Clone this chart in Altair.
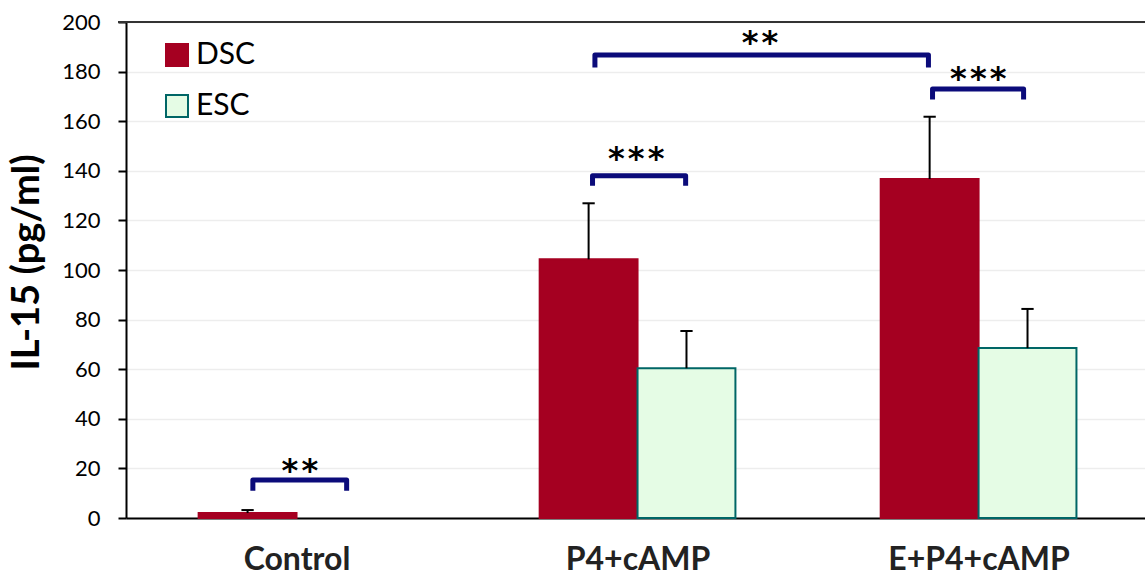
import altair as alt
import pandas as pd

# ---- data ----
groups = ["Control", "P4+cAMP", "E+P4+cAMP"]
cell_types = ["DSC", "ESC"]
dsc_mean = [2.0, 104.3, 136.7]
dsc_sem = [1.2, 22.6, 25.1]
esc_mean = [0.0, 60.4, 68.5]
esc_sem = [0.0, 15.0, 15.8]

# significance brackets (x in group units, y in pg/ml)
br_x1 = [0.372, 1.368, 1.375, 2.365]
br_x2 = [0.647, 1.641, 2.353, 2.632]
br_top = [15.3, 138.0, 186.7, 173.0]
br_bottom = [11.0, 134.0, 181.7, 168.8]
star_text = ["*\u200a*", "*\u200a*\u200a*", "*\u200a*", "*\u200a*\u200a*"]
star_x = [0.51, 1.496, 1.859, 2.499]
star_y = [21.4, 147.3, 194.0, 179.3]

# ---- build tables ----
BAR_W = 0.287
rows = []
for i, g in enumerate(groups):
    c = i + 0.5
    rows.append(dict(group=g, cell="DSC", mean=dsc_mean[i], top=dsc_mean[i] + dsc_sem[i],
                     x=c - BAR_W, x2=c, xc=c - BAR_W / 2))
    rows.append(dict(group=g, cell="ESC", mean=esc_mean[i], top=esc_mean[i] + esc_sem[i],
                     x=c, x2=c + BAR_W, xc=c + BAR_W / 2))
bars = pd.DataFrame(rows)
bars["cap1"] = bars["xc"] - 0.018
bars["cap2"] = bars["xc"] + 0.018

brows = []
for k in range(len(br_x1)):
    pts = [(br_x1[k], br_bottom[k]), (br_x1[k], br_top[k]), (br_x2[k], br_top[k]), (br_x2[k], br_bottom[k])]
    for j, (px, py) in enumerate(pts):
        brows.append(dict(b=k, o=j, x=px, y=py))
brackets = pd.DataFrame(brows)
stars = pd.DataFrame(dict(x=star_x, y=star_y, t=star_text))
border = pd.DataFrame(dict(y=[200]))

FONT = "Lato"
xscale = alt.Scale(domain=[0, 2.988], nice=False, zero=False)
yscale = alt.Scale(domain=[0, 200], nice=False)

label_expr = "[" + ",".join("'" + g + "'" for g in groups) + "][round(datum.value - 0.5)]"

xaxis = alt.Axis(values=[0.5, 1.5, 2.5], labelExpr=label_expr, title=None, grid=False,
                 ticks=False, domainColor="black", domainWidth=2, labelFont=FONT, labelLimit=0,
                 labelFontSize=32, labelFontWeight="bold", labelColor="#222222", labelPadding=26)
yaxis = alt.Axis(values=list(range(0, 201, 20)), title="IL-15 (pg/ml)", titleFont=FONT,
                 titleFontSize=38, titleFontWeight="bold", titleColor="black", titlePadding=15,
                 titleY=240,
                 labelFont=FONT, labelFontSize=22, labelColor="black", labelPadding=18,
                 tickColor="black", tickWidth=2, tickSize=8, domainColor="black", domainWidth=2,
                 gridColor="#EDEDED", gridWidth=1.5)

leg = alt.Legend(title=None, orient="none", legendX=36, legendY=18, symbolType="square",
                 symbolSize=484, symbolStrokeWidth=2, labelFont=FONT, labelFontSize=30,
                 labelColor="black", rowPadding=21, labelOffset=4)

bar_layer = alt.Chart(bars).transform_filter("datum.mean > 0").mark_bar(strokeWidth=2).encode(
    x=alt.X("x:Q", scale=xscale, axis=xaxis),
    x2="x2:Q",
    y=alt.Y("mean:Q", scale=yscale, axis=yaxis),
    y2=alt.datum(0),
    fill=alt.Fill("cell:N", scale=alt.Scale(domain=cell_types, range=["#A50021", "#E5FCE5"]), legend=leg),
    stroke=alt.Stroke("cell:N", scale=alt.Scale(domain=cell_types, range=["#A50021", "#006666"]), legend=leg),
)

err_stem = alt.Chart(bars).transform_filter("datum.top > datum.mean").mark_rule(color="black", strokeWidth=2).encode(
    x="xc:Q", y="mean:Q", y2="top:Q")
err_cap = alt.Chart(bars).transform_filter("datum.top > datum.mean").mark_rule(color="black", strokeWidth=2).encode(
    x="cap1:Q", x2="cap2:Q", y="top:Q")

bracket_layer = alt.Chart(brackets).mark_line(color="#0B0B7A", strokeWidth=5, strokeJoin="round",
                                               strokeCap="butt").encode(
    x="x:Q", y="y:Q", detail="b:N", order="o:Q")

star_layer = alt.Chart(stars).mark_text(font="DejaVu Sans", fontWeight="bold", fontSize=32,
                                        color="black", baseline="alphabetic", dy=16).encode(
    x="x:Q", y="y:Q", text="t:N")

border_layer = alt.Chart(border).mark_rule(color="#333333", strokeWidth=2).encode(
    y="y:Q", x=alt.value(-8), x2=alt.value(1019))

chart = alt.layer(bar_layer, err_stem, err_cap, bracket_layer, star_layer, border_layer).properties(
    width=1019, height=496,
    padding={"left": 126, "top": 22, "right": 0, "bottom": 58},
    autosize=alt.AutoSizeParams(type="none"),
).configure_view(stroke=None).configure(background="white")

chart.save("out.html", embed_options={"renderer": "svg", "actions": False})
